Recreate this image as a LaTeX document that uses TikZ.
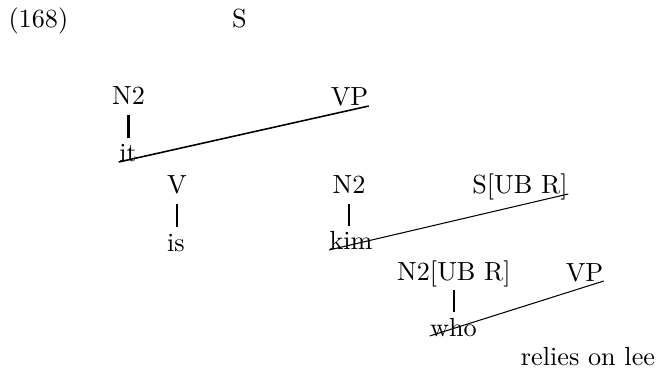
\documentclass[tikz,border=0pt]{standalone}
\usepackage{tikz}
\begin{document}
\begin{tikzpicture}[x=0.3817pt, y=-0.3817pt,
		lbl/.style={inner sep=0pt, text height=7pt, text depth=2.5pt, anchor=base},
		branch/.style={line width=0.6pt, shorten <=1.2pt, shorten >=2pt}]
			\useasboundingbox (0,0) rectangle (658,370);
			% example number and root
			\node[lbl, anchor=base west] (exno) at (8,28) {(168)};
			\node[lbl] (s) at (239.5,28) {S};
			% first level
			\node[lbl] (n2a) at (128.5,105) {N2};
			\node[lbl] (vpa) at (349.5,106) {VP};
			\node[lbl] (it) at (128,162) {it};
			\draw[branch, line width=1.1pt] (n2a.south) -- (n2a.south |- it.north);
			\draw[line width=0.6pt] (it.base west) -- (vpa.base east);
			% verb and object
			\node[lbl] (v) at (177,194) {V};
			\node[lbl] (is) at (176,251) {is};
			\draw[branch] (v.south) -- (v.south |- is.north);
			\node[lbl] (n2b) at (349,194) {N2};
			\node[lbl] (kim) at (351,250) {kim};
			\draw[branch] (n2b.south) -- (n2b.south |- kim.north);
			\node[lbl] (sub) at (520,194) {S[UB R]};
			\draw[line width=0.4pt] (kim.base west) -- (sub.base east);
			% relative clause
			\node[lbl] (n2ub) at (454,280) {N2[UB R]};
			\node[lbl] (vpb) at (584.5,281) {VP};
			\node[lbl] (who) at (453.5,336) {who};
			\draw[branch] (n2ub.south) -- (n2ub.south |- who.north);
			\draw[line width=0.4pt] (who.base west) -- (vpb.base east);
			\node[lbl] (rol) at (588,365) {relies on lee};
		\end{tikzpicture}
\end{document}
